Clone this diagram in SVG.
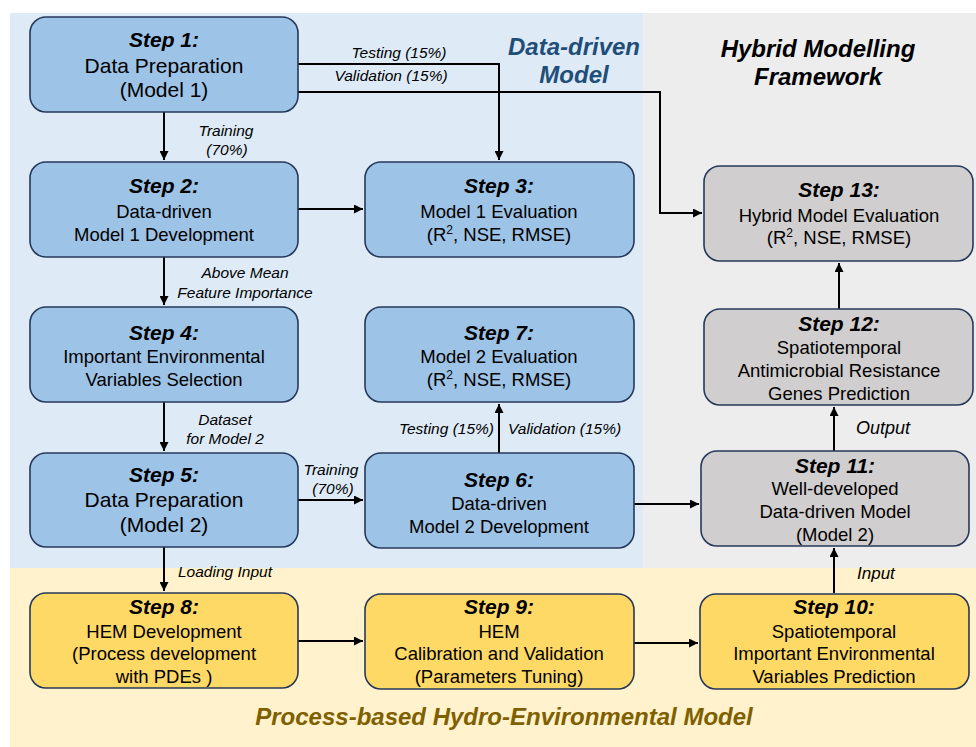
<svg xmlns="http://www.w3.org/2000/svg" width="976" height="747" viewBox="0 0 976 747">
<defs>
<marker id="ah" viewBox="0 0 10 10" refX="10" refY="5" markerWidth="4.5" markerHeight="4.5" orient="auto" markerUnits="strokeWidth">
<path d="M0,0 L10,5 L0,10 z" fill="#000"/>
</marker>
</defs>
<style>
.bx{stroke:#26395a;stroke-width:1.6}
.blue{fill:#9dc3e6}
.gray{fill:#d0cece}
.yel{fill:#ffd966}
text{font-family:"Liberation Sans",Arial,sans-serif;fill:#000;text-anchor:middle}
.st{font-size:21px;font-weight:bold;font-style:italic}
.big{font-size:21px}
.b{font-size:18.5px}
.lb{font-size:15.5px;font-style:italic}
.ttl{font-size:24px;font-weight:bold;font-style:italic}
.cn{fill:none;stroke:#000;stroke-width:2}
</style>
<rect x="0" y="0" width="976" height="747" fill="#fff"/>
<rect x="10" y="13" width="633" height="555" fill="#deebf7"/>
<rect x="643" y="13" width="333" height="555" fill="#ededed"/>
<rect x="10" y="568" width="966" height="179" fill="#fff2cc"/>

<g id="titles">
<text class="ttl" x="574" y="55" style="fill:#1f4e79">Data-driven</text>
<text class="ttl" x="574" y="83" style="fill:#1f4e79">Model</text>
<text class="ttl" x="818" y="57">Hybrid Modelling</text>
<text class="ttl" x="818" y="85">Framework</text>
<text class="ttl" x="504" y="725" style="fill:#7f6000">Process-based Hydro-Environmental Model</text>
</g>

<g id="connectors">
<path class="cn" d="M298,64 H499 V160" marker-end="url(#ah)"/>
<path class="cn" d="M298,92 H660 V213 H702" marker-end="url(#ah)"/>
<path class="cn" d="M164,112 V160" marker-end="url(#ah)"/>
<path class="cn" d="M298,209 H363" marker-end="url(#ah)"/>
<path class="cn" d="M164,257 V305" marker-end="url(#ah)"/>
<path class="cn" d="M164,402 V451" marker-end="url(#ah)"/>
<path class="cn" d="M298,500 H363" marker-end="url(#ah)"/>
<path class="cn" d="M499,453 V404" marker-end="url(#ah)"/>
<path class="cn" d="M634,504 H699" marker-end="url(#ah)"/>
<path class="cn" d="M834,451 V407" marker-end="url(#ah)"/>
<path class="cn" d="M839,309 V263" marker-end="url(#ah)"/>
<path class="cn" d="M834,593 V548" marker-end="url(#ah)"/>
<path class="cn" d="M164,547 V591" marker-end="url(#ah)"/>
<path class="cn" d="M298,641 H363" marker-end="url(#ah)"/>
<path class="cn" d="M634,643 H698" marker-end="url(#ah)"/>
<text class="lb" x="399" y="58">Testing (15%)</text>
<text class="lb" x="391" y="81">Validation (15%)</text>
<text class="lb" x="226" y="136">Training</text>
<text class="lb" x="227" y="155">(70%)</text>
<text class="lb" x="245" y="278">Above Mean</text>
<text class="lb" x="245" y="298">Feature Importance</text>
<text class="lb" x="225" y="425">Dataset</text>
<text class="lb" x="225" y="444">for Model 2</text>
<text class="lb" x="331" y="475">Training</text>
<text class="lb" x="333" y="494">(70%)</text>
<text class="lb" x="494" y="434" style="text-anchor:end">Testing (15%)</text>
<text class="lb" x="508" y="434" style="text-anchor:start">Validation (15%)</text>
<text class="lb" x="856" y="434" style="text-anchor:start;font-size:18px">Output</text>
<text class="lb" x="857" y="579" style="text-anchor:start;font-size:17px">Input</text>
<text class="lb" x="178" y="577" style="text-anchor:start">Loading Input</text>
</g>

<g id="step1">
<rect class="bx blue" x="30" y="17" width="268" height="95" rx="16"/>
<text class="st" x="164" y="47">Step 1:</text>
<text class="big" x="164" y="73">Data Preparation</text>
<text class="big" x="164" y="97">(Model 1)</text>
</g>
<g id="step2">
<rect class="bx blue" x="30" y="162" width="268" height="95" rx="16"/>
<text class="st" x="164" y="193">Step 2:</text>
<text class="b" x="164" y="218">Data-driven</text>
<text class="b" x="164" y="241">Model 1 Development</text>
</g>
<g id="step3">
<rect class="bx blue" x="365" y="162" width="269" height="95" rx="16"/>
<text class="st" x="499" y="193">Step 3:</text>
<text class="b" x="499" y="218">Model 1 Evaluation</text>
<text class="b" x="499" y="241">(R<tspan dy="-7" font-size="12">2</tspan><tspan dy="7">, NSE, RMSE)</tspan></text>
</g>
<g id="step4">
<rect class="bx blue" x="30" y="307" width="268" height="95" rx="16"/>
<text class="st" x="164" y="340">Step 4:</text>
<text class="b" x="164" y="363">Important Environmental</text>
<text class="b" x="164" y="386">Variables Selection</text>
</g>
<g id="step5">
<rect class="bx blue" x="30" y="453" width="268" height="94" rx="16"/>
<text class="st" x="164" y="482">Step 5:</text>
<text class="big" x="164" y="507">Data Preparation</text>
<text class="big" x="164" y="532">(Model 2)</text>
</g>
<g id="step6">
<rect class="bx blue" x="365" y="453" width="269" height="95" rx="16"/>
<text class="st" x="499" y="487">Step 6:</text>
<text class="b" x="499" y="510">Data-driven</text>
<text class="b" x="499" y="533">Model 2 Development</text>
</g>
<g id="step7">
<rect class="bx blue" x="365" y="307" width="269" height="95" rx="16"/>
<text class="st" x="499" y="340">Step 7:</text>
<text class="b" x="499" y="363">Model 2 Evaluation</text>
<text class="b" x="499" y="386">(R<tspan dy="-7" font-size="12">2</tspan><tspan dy="7">, NSE, RMSE)</tspan></text>
</g>
<g id="step8">
<rect class="bx yel" x="30" y="593" width="268" height="95" rx="16"/>
<text class="st" x="164" y="614">Step 8:</text>
<text class="b" x="164" y="638">HEM Development</text>
<text class="b" x="164" y="660">(Process development</text>
<text class="b" x="164" y="683">with PDEs )</text>
</g>
<g id="step9">
<rect class="bx yel" x="365" y="594" width="269" height="95" rx="16"/>
<text class="st" x="499" y="614">Step 9:</text>
<text class="b" x="499" y="638">HEM</text>
<text class="b" x="499" y="660">Calibration and Validation</text>
<text class="b" x="499" y="683">(Parameters Tuning)</text>
</g>
<g id="step10">
<rect class="bx yel" x="700" y="594" width="269" height="95" rx="16"/>
<text class="st" x="834" y="614">Step 10:</text>
<text class="b" x="834" y="638">Spatiotemporal</text>
<text class="b" x="834" y="660">Important Environmental</text>
<text class="b" x="834" y="683">Variables Prediction</text>
</g>
<g id="step11">
<rect class="bx gray" x="701" y="451" width="268" height="95" rx="16"/>
<text class="st" x="835" y="473">Step 11:</text>
<text class="b" x="835" y="495">Well-developed</text>
<text class="b" x="835" y="518">Data-driven Model</text>
<text class="b" x="835" y="541">(Model 2)</text>
</g>
<g id="step12">
<rect class="bx gray" x="704" y="309" width="269" height="96" rx="16"/>
<text class="st" x="839" y="331">Step 12:</text>
<text class="b" x="839" y="354">Spatiotemporal</text>
<text class="b" x="839" y="377">Antimicrobial Resistance</text>
<text class="b" x="839" y="400">Genes Prediction</text>
</g>
<g id="step13">
<rect class="bx gray" x="704" y="166" width="269" height="95" rx="16"/>
<text class="st" x="839" y="197">Step 13:</text>
<text class="b" x="839" y="222">Hybrid Model Evaluation</text>
<text class="b" x="839" y="244">(R<tspan dy="-7" font-size="12">2</tspan><tspan dy="7">, NSE, RMSE)</tspan></text>
</g>
</svg>
